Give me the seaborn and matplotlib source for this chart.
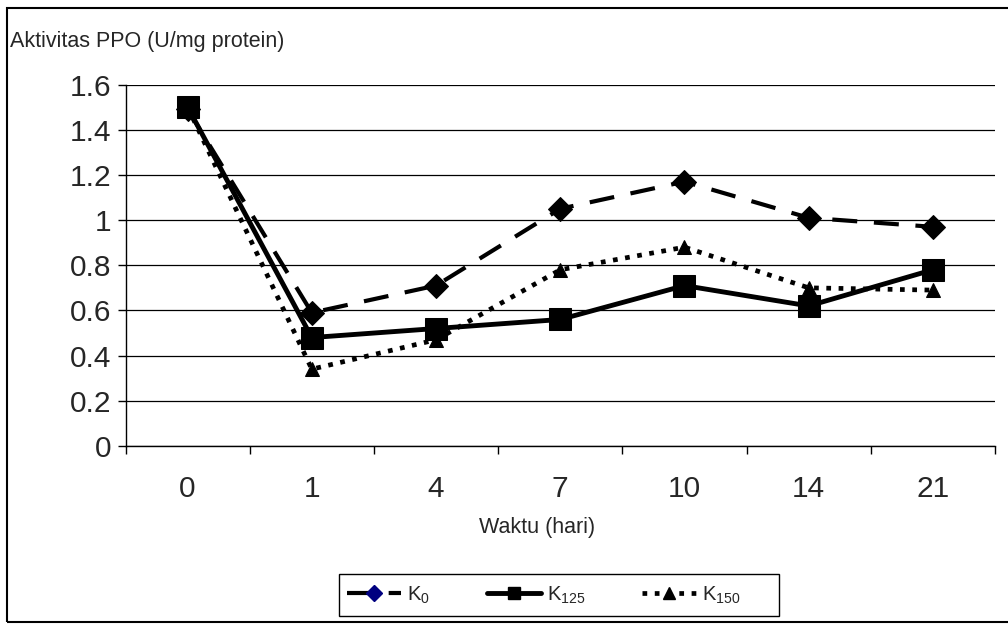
import numpy as np
import pandas as pd
import matplotlib
matplotlib.use("Agg")
import matplotlib.pyplot as plt
from matplotlib.lines import Line2D
from matplotlib.patches import Rectangle
import seaborn as sns

# ---- data ----
days = ["0", "1", "4", "7", "10", "14", "21"]
k0 = [1.49, 0.59, 0.71, 1.05, 1.17, 1.01, 0.97]
k125 = [1.50, 0.48, 0.52, 0.56, 0.71, 0.62, 0.78]
k150 = [1.50, 0.34, 0.47, 0.78, 0.88, 0.70, 0.69]
y_ticks = [0, 0.2, 0.4, 0.6, 0.8, 1.0, 1.2, 1.4, 1.6]
y_tick_labels = ["0", "0.2", "0.4", "0.6", "0.8", "1", "1.2", "1.4", "1.6"]
series_labels = [r"$\mathregular{K_{0}}$", r"$\mathregular{K_{125}}$", r"$\mathregular{K_{150}}$"]
y_title = "Aktivitas PPO (U/mg protein)"
x_title = "Waktu (hari)"

sns.set_style("white")
plt.rcParams["font.family"] = ["Liberation Sans", "DejaVu Sans"]
plt.rcParams["mathtext.default"] = "regular"

df = pd.DataFrame({"pos": np.arange(len(days)), "day": days,
                   "K0": k0, "K125": k125, "K150": k150})

W, H = 1008, 624
fig = plt.figure(figsize=(W / 100, H / 100), dpi=100)
ax = fig.add_axes([125.5 / W, 1 - 446 / H, (995 - 125.5) / W, (446 - 84.5) / H])

dash_k0 = (0, (6, 4))
dot_k150 = (0, (1.0, 1.6))

sns.lineplot(data=df, x="pos", y="K0", ax=ax, color="black", lw=3,
             linestyle=dash_k0, marker="D", markersize=12.5,
             markerfacecolor="black", markeredgecolor="black", zorder=3)
sns.lineplot(data=df, x="pos", y="K150", ax=ax, color="black", lw=3.4,
             linestyle=dot_k150, marker="^", markersize=10,
             markerfacecolor="black", markeredgecolor="black", zorder=4)
sns.lineplot(data=df, x="pos", y="K125", ax=ax, color="black", lw=3.5,
             linestyle="-", marker="s", markersize=16,
             markerfacecolor="black", markeredgecolor="black", zorder=5)
for ln in ax.get_lines():
    ln.set_dash_capstyle("butt")
    ln.set_solid_capstyle("butt")

ax.set_xlim(-0.5, len(days) - 0.5)
ax.set_ylim(0, 1.6)
ax.set_yticks(y_ticks)
ax.set_yticklabels(y_tick_labels, fontsize=21.5)
ax.set_xticks(np.arange(len(days)))
ax.set_xticklabels(days, fontsize=21.5)
ax.set_xticks(np.arange(len(days) + 1) - 0.5, minor=True)
ax.tick_params(axis="x", which="major", bottom=True, length=0, pad=21)
ax.tick_params(axis="x", which="minor", bottom=True, length=6, width=1,
               color="black", direction="out")
ax.tick_params(axis="y", which="major", left=True, length=6, width=1,
               color="black", direction="out", pad=4)
ax.set_xlabel("")
ax.set_ylabel("")

ax.yaxis.grid(True, color="black", lw=0.9)
ax.xaxis.grid(False)
ax.set_axisbelow(True)
for s in ["top", "right"]:
    ax.spines[s].set_visible(False)
for s in ["left", "bottom"]:
    ax.spines[s].set_color("black")
    ax.spines[s].set_linewidth(1)

fig.text(10 / W, 1 - 47 / H, y_title, fontsize=15.5, ha="left", va="baseline")
fig.text(537 / W, 1 - 533 / H, x_title, fontsize=15.5, ha="center", va="baseline")

handles = [
    Line2D([], [], color="black", lw=3, linestyle=dash_k0, marker="D",
           markersize=8, markerfacecolor="#000080", markeredgecolor="#000080"),
    Line2D([], [], color="black", lw=3.5, linestyle="-", marker="s",
           markersize=9, markerfacecolor="black", markeredgecolor="black"),
    Line2D([], [], color="black", lw=3.4, linestyle=dot_k150, marker="^",
           markersize=9, markerfacecolor="black", markeredgecolor="black"),
]
leg = fig.legend(handles, series_labels, loc="center left",
                 bbox_to_anchor=(347 / W, 1 - 595 / H), ncol=3, fontsize=14.5,
                 frameon=False, borderpad=0, borderaxespad=0,
                 handlelength=2.7, handletextpad=0.3, columnspacing=2.8)

# legend frame box
fig.patches.append(Rectangle((339 / W, 1 - 616 / H), (779 - 339) / W, (616 - 574) / H,
                             transform=fig.transFigure, fill=False,
                             edgecolor="black", lw=1))
# outer chart-area border
fig.patches.append(Rectangle((7 / W, 1 - 622 / H), (1015 - 7) / W, (622 - 8) / H,
                             transform=fig.transFigure, fill=False,
                             edgecolor="black", lw=1.5))

fig.savefig("out.png", dpi=100)
